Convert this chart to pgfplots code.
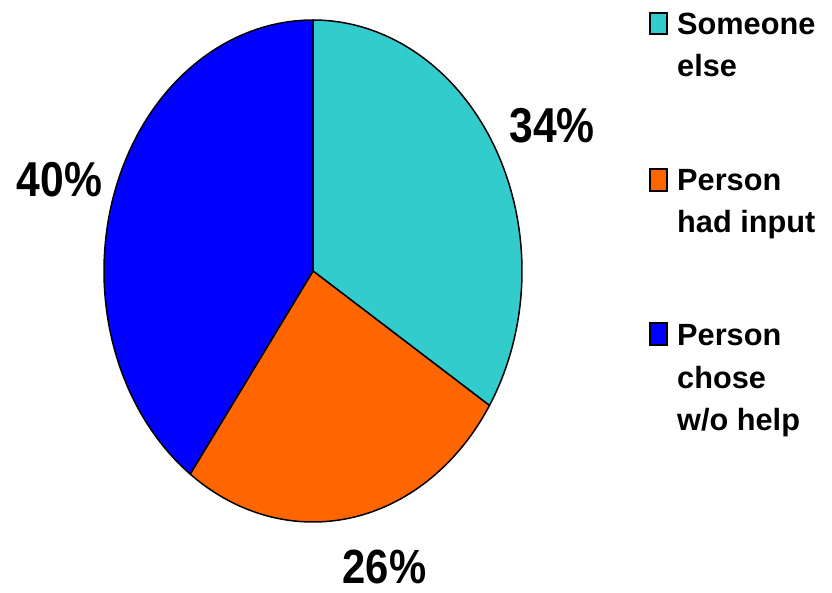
\documentclass[border=0pt]{standalone}
\usepackage{pgfplots}
\pgfplotsset{compat=1.18}
\usepackage{fontspec}
\setmainfont{Liberation Sans}
\newfontfamily\pctfont{Liberation Sans Bold}[FakeStretch=0.87]
\newfontfamily\legfont{Liberation Sans Bold}
\definecolor{pteal}{HTML}{33CCCC}
\definecolor{porange}{HTML}{FF6600}
\definecolor{pblue}{HTML}{0000FF}
\begin{document}
\begin{tikzpicture}
\begin{axis}[width=832pt, height=593pt, scale only axis,
  xmin=0, xmax=832, ymin=0, ymax=593, y dir=reverse,
  hide axis, clip=false]
% Pie slices: cumulative percentages 0-34 (Someone else), 34-60 (Person had input), 60-100 (Person chose w/o help)
\addplot[fill=pteal, draw=black, line width=1.5pt, line join=round, domain=0:34, samples=90, variable=\t]
  ({313+209*sin(3.6*\t)}, {271-251*cos(3.6*\t)}) -- (313,271) -- cycle;
\addplot[fill=porange, draw=black, line width=1.5pt, line join=round, domain=34:60, samples=80, variable=\t]
  ({313+209*sin(3.6*\t)}, {271-251*cos(3.6*\t)}) -- (313,271) -- cycle;
\addplot[fill=pblue, draw=black, line width=1.5pt, line join=round, domain=60:100, samples=110, variable=\t]
  ({313+209*sin(3.6*\t)}, {271-251*cos(3.6*\t)}) -- (313,271) -- cycle;
% percentage labels
\node[anchor=base, inner sep=0, font=\pctfont\fontsize{49}{49}\selectfont] at (axis cs:552,143) {34\%};
\node[anchor=base, inner sep=0, font=\pctfont\fontsize{48}{48}\selectfont] at (axis cs:384.5,583) {26\%};
\node[anchor=base, inner sep=0, font=\pctfont\fontsize{49}{49}\selectfont] at (axis cs:59.5,197) {40\%};
% legend keys
\addplot[fill=pteal, draw=black, line width=1.6pt] coordinates {(650,13) (667,13) (667,34) (650,34)} -- cycle;
\addplot[fill=porange, draw=black, line width=1.6pt] coordinates {(650,169) (667,169) (667,191) (650,191)} -- cycle;
\addplot[fill=pblue, draw=black, line width=1.6pt] coordinates {(650,323) (667,323) (667,345) (650,345)} -- cycle;
% legend text
\begin{scope}[every node/.style={anchor=base west, inner sep=0, font=\legfont\fontsize{30.7}{42}\selectfont}]
\node at (axis cs:677,35) {Someone};
\node at (axis cs:677,77) {else};
\node at (axis cs:677,191) {Person};
\node at (axis cs:677,233) {had input};
\node at (axis cs:677,345) {Person};
\node at (axis cs:677,388) {chose};
\node at (axis cs:677,430) {w/o help};
\end{scope}
\end{axis}
\pgfresetboundingbox
\path[use as bounding box] (current axis.south west) rectangle (current axis.north east);
\end{tikzpicture}
\end{document}
